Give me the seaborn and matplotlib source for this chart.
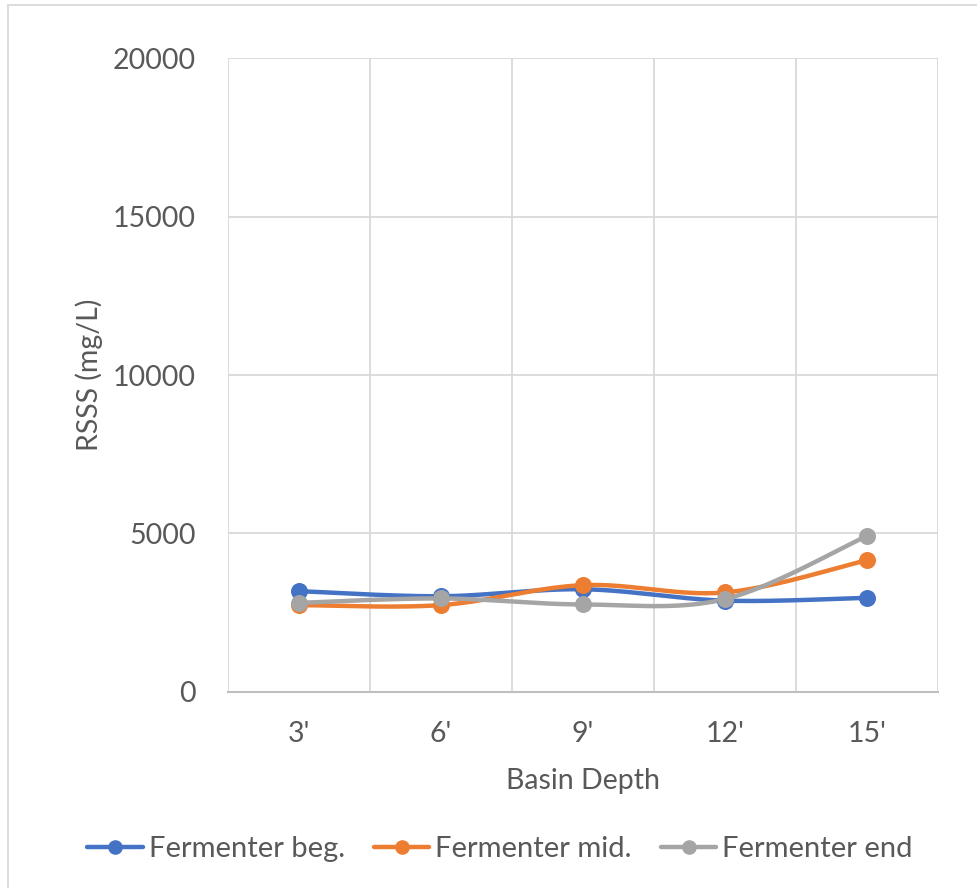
import numpy as np
import pandas as pd
import seaborn as sns
import matplotlib
matplotlib.use("Agg")
import matplotlib.pyplot as plt
from matplotlib.lines import Line2D
from matplotlib.patches import Rectangle

# Data
depths = ["3'", "6'", "9'", "12'", "15'"]
fermenter_beg = [3170, 3010, 3230, 2870, 2960]
fermenter_mid = [2730, 2730, 3360, 3130, 4150]
fermenter_end = [2800, 2940, 2750, 2920, 4920]
series_names = ["Fermenter beg.", "Fermenter mid.", "Fermenter end"]
series_values = [fermenter_beg, fermenter_mid, fermenter_end]
colors = ["#4472C4", "#ED7D31", "#A5A5A5"]
y_ticks = [0, 5000, 10000, 15000, 20000]

sns.set_theme(style="white")
plt.rcParams["font.family"] = ["Lato", "DejaVu Sans"]
TEXT = "#595959"
FS = 20.5


def smooth_curve(xs, ys, n=40):
    """Piecewise cubic Bezier through the points (Catmull-Rom style control points)."""
    P = np.column_stack([xs, ys]).astype(float)
    m = len(P)
    out = []
    for i in range(m - 1):
        p0 = P[i - 1] if i > 0 else P[i]
        p1 = P[i]
        p2 = P[i + 1]
        p3 = P[i + 2] if i + 2 < m else P[i + 1]
        c1 = p1 + (p2 - p0) / 6.0
        c2 = p2 - (p3 - p1) / 6.0
        t = np.linspace(0, 1, n)[:, None]
        seg = ((1 - t) ** 3) * p1 + 3 * ((1 - t) ** 2) * t * c1 + 3 * (1 - t) * t ** 2 * c2 + t ** 3 * p2
        out.append(seg if i == 0 else seg[1:])
    return np.vstack(out)


fig = plt.figure(figsize=(9.77, 8.88), dpi=100)
ax = fig.add_axes([228 / 977, 1 - 691.5 / 888, (938 - 228) / 977, (691.5 - 58.5) / 888])

xpos = np.arange(len(depths))
for name, vals, col in zip(series_names, series_values, colors):
    curve = smooth_curve(xpos, vals)
    dense = pd.DataFrame({"x": curve[:, 0], "y": curve[:, 1]})
    sns.lineplot(data=dense, x="x", y="y", ax=ax, color=col, linewidth=3.2,
                 sort=False, estimator=None, legend=False, zorder=3)
    pts = pd.DataFrame({"x": xpos, "y": vals})
    sns.scatterplot(data=pts, x="x", y="y", ax=ax, color=col, s=150,
                    edgecolor=col, linewidth=0, legend=False, zorder=4)

ax.set_xlim(-0.5, len(depths) - 0.5)
ax.set_ylim(0, 20000)
ax.set_xticks(xpos)
ax.set_xticklabels(depths)
ax.set_xticks(np.arange(-0.5, len(depths), 1.0), minor=True)
ax.set_yticks(y_ticks)
ax.set_yticklabels([str(v) for v in y_ticks])

ax.grid(False)
ax.grid(True, which="minor", axis="x", color="#D9D9D9", linewidth=1.3)
ax.grid(True, which="major", axis="y", color="#D9D9D9", linewidth=1.3)
ax.set_axisbelow(True)

for s in ["top", "right", "left"]:
    ax.spines[s].set_visible(False)
ax.spines["bottom"].set_color("#BFBFBF")
ax.spines["bottom"].set_linewidth(1.5)

ax.tick_params(axis="both", which="both", length=0, labelsize=FS, labelcolor=TEXT)
ax.tick_params(axis="y", pad=23)
ax.tick_params(axis="x", pad=21)

ax.set_xlabel("Basin Depth", fontsize=FS, color=TEXT, labelpad=15)
ax.set_ylabel("RSSS (mg/L)", fontsize=FS, color=TEXT, labelpad=7)

handles = [Line2D([0], [0], color=c, linewidth=3.2, marker="o", markersize=9.5) for c in colors]
fig.legend(handles, series_names, loc="center", bbox_to_anchor=(500 / 977, 1 - 849 / 888),
           ncol=3, frameon=False, fontsize=21, labelcolor=TEXT, handlelength=1.9,
           handletextpad=0.2, columnspacing=1.0)

# chart area border
fig.patches.append(Rectangle((8 / 977, -0.05), 1.2, 1 - 5 / 888 + 0.05, transform=fig.transFigure,
                             fill=False, edgecolor="#D9D9D9", linewidth=1.3, zorder=0))

fig.savefig("out.png", dpi=100, facecolor="white")
